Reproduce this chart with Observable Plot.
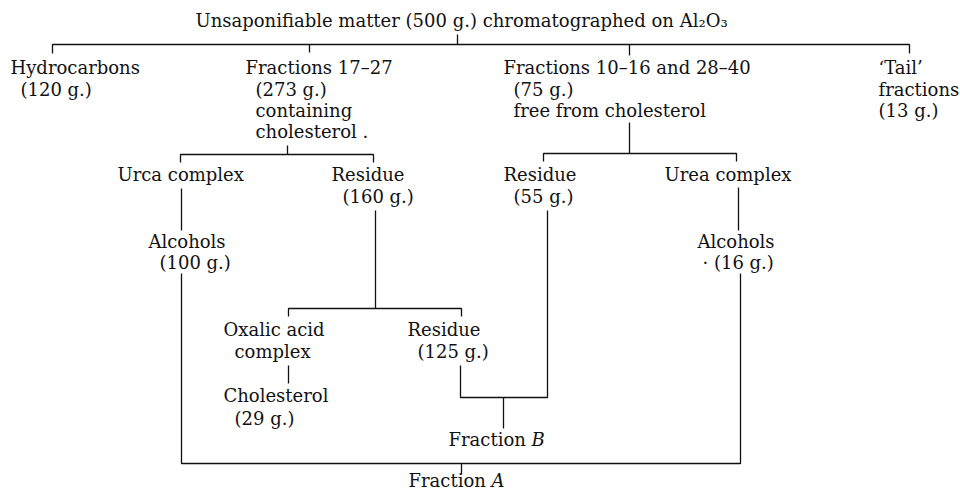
<!DOCTYPE html>
<html>
<head>
<meta charset="utf-8">
<script src="https://cdn.jsdelivr.net/npm/d3@7"></script>
<script src="https://cdn.jsdelivr.net/npm/@observablehq/plot@0.6"></script>
<style>
  html, body { margin: 0; padding: 0; background: #fff; }
  #chart svg { display: block; }
</style>
</head>
<body>
<div id="chart"></div>
<script>
// ---- Text of the flowchart (each line of each box) ----
const labelText = [
  "Unsaponifiable matter (500 g.) chromatographed on Al₂O₃",
  "Hydrocarbons", "(120 g.)",
  "Fractions 17–27", "(273 g.)", "containing", "cholesterol .",
  "Fractions 10–16 and 28–40", "(75 g.)", "free from cholesterol",
  "‘Tail’", "fractions", "(13 g.)",
  "Urca complex", "Alcohols", "(100 g.)",
  "Residue", "(160 g.)",
  "Residue", "(55 g.)",
  "Urea complex", "Alcohols", "· (16 g.)",
  "Oxalic acid", "complex", "Cholesterol", "(29 g.)",
  "Residue", "(125 g.)",
  "Fraction B", "Fraction A"
];

// ---- Layout (diagram coordinates: left edge / vertical centre of each text line) ----
const labelX = [
  195,
  10, 20,
  245, 255, 255, 255,
  503, 513, 513,
  878, 878, 878,
  117, 148, 159,
  331, 342,
  503, 513,
  664, 697, 702,
  223, 234, 223, 234,
  407, 417,
  448, 408
];
const labelY = [
  21,
  68, 90,
  68, 90, 111, 132,
  68, 90, 111,
  68, 90, 111,
  175, 242, 263,
  175, 197,
  175, 197,
  175, 242, 263,
  330, 352, 396, 419,
  330, 352,
  440, 481
];

// ---- Connector lines (polylines in diagram coordinates) ----
const connectors = [
  [[457, 34], [457, 44]],
  [[52, 53], [52, 44], [909, 44], [909, 53]],
  [[309, 44], [309, 52]],
  [[629, 44], [629, 55]],
  [[287, 145], [287, 154]],
  [[180, 162], [180, 154], [373, 154], [373, 162]],
  [[181, 188], [181, 230]],
  [[181, 273], [181, 463], [740, 463], [740, 273]],
  [[375, 210], [375, 308]],
  [[288, 316], [288, 308], [461, 308], [461, 316]],
  [[288, 365], [288, 383]],
  [[460, 365], [460, 397], [547, 397], [547, 210]],
  [[503, 397], [503, 428]],
  [[461, 463], [461, 474]],
  [[629, 122], [629, 153]],
  [[543, 161], [543, 153], [736, 153], [736, 161]],
  [[738, 187], [738, 230]]
];

const labels = labelText.map((t, i) => ({text: t, x: labelX[i], y: labelY[i]}));
const segments = connectors.flatMap((pts, id) => pts.map(([x, y]) => ({id, x, y})));

const plot = Plot.plot({
  width: 960,
  height: 491,
  margin: 0,
  x: {domain: [0, 960], axis: null},
  y: {domain: [0, 491], range: [0, 491], axis: null},
  style: {background: "#fff", fontFamily: "'DejaVu Serif', serif"},
  marks: [
    Plot.line(segments, {x: "x", y: "y", z: "id", stroke: "#111", strokeWidth: 1.3, strokeLinejoin: "miter", strokeLinecap: "butt", curve: "linear"}),
    Plot.text(labels, {x: "x", y: "y", text: "text", textAnchor: "start", lineAnchor: "middle",
      fontSize: 18, fill: "#111", fontFamily: "'DejaVu Serif', serif"})
  ]
});

// italic letters for "Fraction A" / "Fraction B"
d3.select(plot).selectAll("text").each(function () {
  const t = this.textContent;
  const m = /^Fraction ([AB])$/.exec(t);
  if (m) {
    this.textContent = "Fraction ";
    d3.select(this).append("tspan").attr("font-style", "italic").text(m[1]);
  }
});

document.getElementById("chart").appendChild(plot);
</script>
</body>
</html>
